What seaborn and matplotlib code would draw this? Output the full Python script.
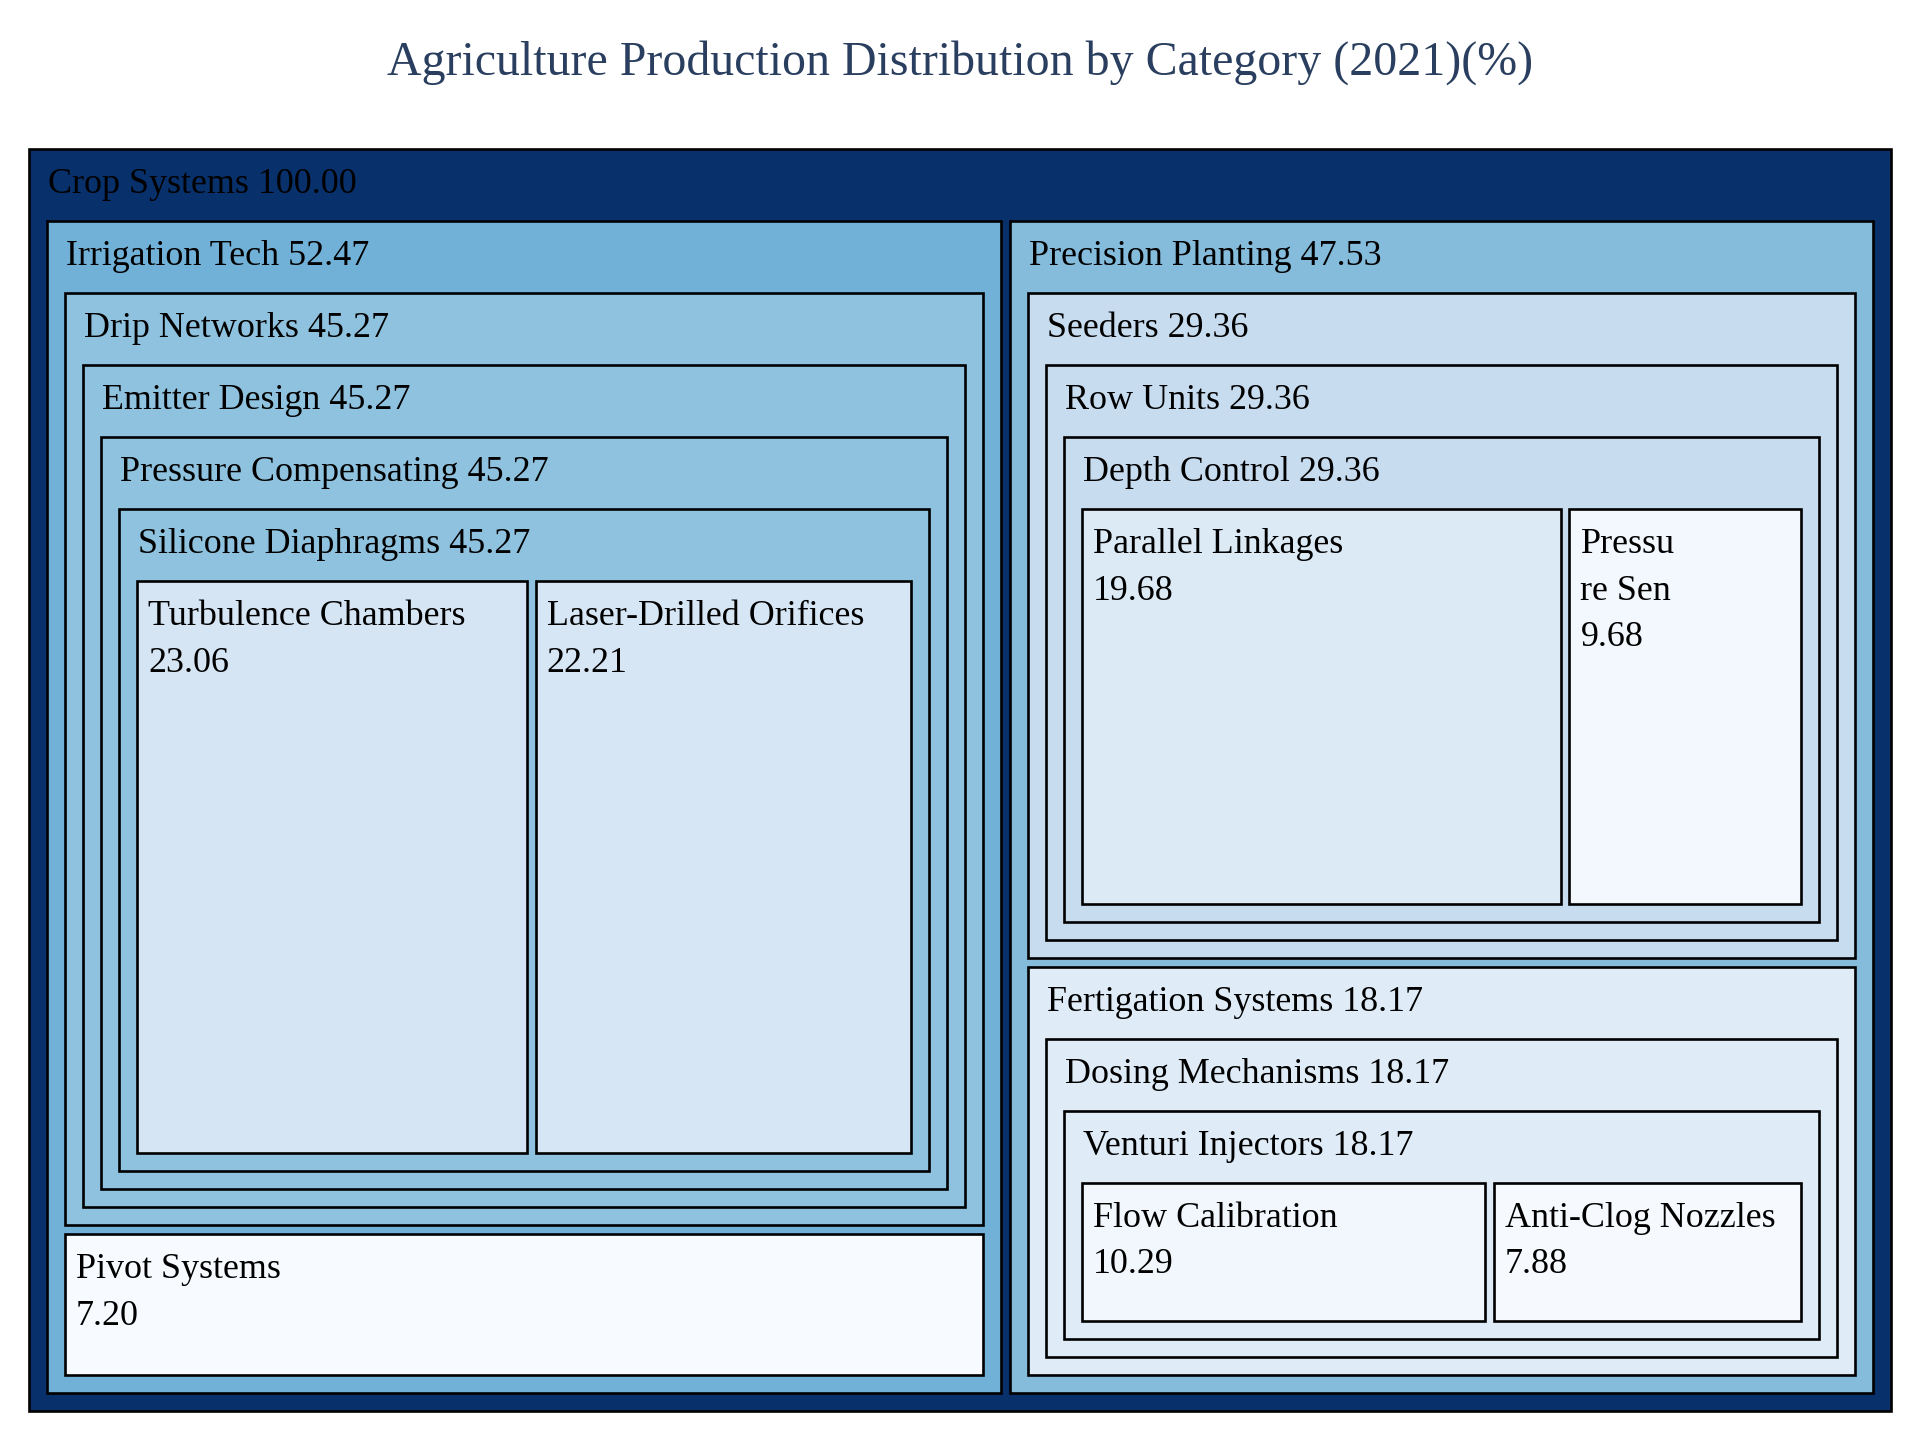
import matplotlib.pyplot as plt
from matplotlib.patches import Rectangle
from matplotlib.colors import Normalize
import seaborn as sns

# treemap data (values in %)
labels = [
    "Crop Systems", "Irrigation Tech", "Precision Planting",
    "Drip Networks", "Pivot Systems",
    "Emitter Design", "Pressure Compensating", "Silicone Diaphragms",
    "Turbulence Chambers", "Laser-Drilled Orifices",
    "Seeders", "Fertigation Systems",
    "Row Units", "Depth Control", "Parallel Linkages", "Pressu\nre Sen",
    "Dosing Mechanisms", "Venturi Injectors", "Flow Calibration", "Anti-Clog Nozzles",
]
parents = [
    None, "Crop Systems", "Crop Systems",
    "Irrigation Tech", "Irrigation Tech",
    "Drip Networks", "Emitter Design", "Pressure Compensating",
    "Silicone Diaphragms", "Silicone Diaphragms",
    "Precision Planting", "Precision Planting",
    "Seeders", "Row Units", "Depth Control", "Depth Control",
    "Fertigation Systems", "Dosing Mechanisms", "Venturi Injectors", "Venturi Injectors",
]
values = [
    100.00, 52.47, 47.53,
    45.27, 7.20,
    45.27, 45.27, 45.27,
    23.06, 22.21,
    29.36, 18.17,
    29.36, 29.36, 19.68, 9.68,
    18.17, 18.17, 10.29, 7.88,
]
title = "Agriculture Production Distribution by Category (2021)(%)"

W, H = 1920, 1440
PAD, PAD_TOP, GAP = 18, 72, 8.5
FS = 25.9
LINE = 46.7
FONT = "Liberation Serif"

sns.set_theme(style="white")
plt.rcParams["font.family"] = [FONT, "DejaVu Serif"]

val = dict(zip(labels, values))
children = {l: [] for l in labels}
for l, p in zip(labels, parents):
    if p is not None:
        children[p].append(l)

cmap = sns.color_palette("Blues", as_cmap=True)
norm = Normalize(vmin=min(values), vmax=max(values))

rects = {}
order = []


def layout(node, x0, y0, x1, y1):
    rects[node] = (x0, y0, x1, y1)
    order.append(node)
    kids = sorted(children[node], key=lambda k: -val[k])
    if not kids:
        return
    ix0, ix1 = x0 + PAD - GAP / 2, x1 - PAD + GAP / 2
    iy0, iy1 = y0 + PAD_TOP - GAP / 2, y1 - PAD + GAP / 2
    total = sum(val[k] for k in kids)
    horiz = (ix1 - ix0) >= (iy1 - iy0)
    pos = ix0 if horiz else iy0
    for k in kids:
        frac = val[k] / total
        if horiz:
            w = (ix1 - ix0) * frac
            layout(k, pos + GAP / 2, iy0 + GAP / 2, pos + w - GAP / 2, iy1 - GAP / 2)
        else:
            w = (iy1 - iy0) * frac
            layout(k, ix0 + GAP / 2, pos + GAP / 2, ix1 - GAP / 2, pos + w - GAP / 2)
        pos += w


root = labels[parents.index(None)]
layout(root, 29, 149, 1891, 1411)

fig = plt.figure(figsize=(W / 100, H / 100), dpi=100)
ax = fig.add_axes([0, 0, 1, 1])
ax.set_xlim(0, W)
ax.set_ylim(H, 0)
ax.axis("off")

for node in order:
    x0, y0, x1, y1 = rects[node]
    ax.add_patch(Rectangle((x0, y0), x1 - x0, y1 - y0,
                           facecolor=cmap(norm(val[node])),
                           edgecolor="black", linewidth=1.9))
    if children[node]:
        lines = [f"{node} {val[node]:.2f}"]
        tx = x0 + 19
    else:
        lines = node.split("\n") + [f"{val[node]:.2f}"]
        tx = x0 + 11
    for i, s in enumerate(lines):
        ax.text(tx, y0 + 44 + i * LINE, s, fontsize=FS, color="black",
                ha="left", va="baseline")

fig.text(0.5, 1 - 75 / H, title, fontsize=34.5, color="#2a3f5f",
         ha="center", va="baseline")

fig.savefig("out.png", dpi=100)
